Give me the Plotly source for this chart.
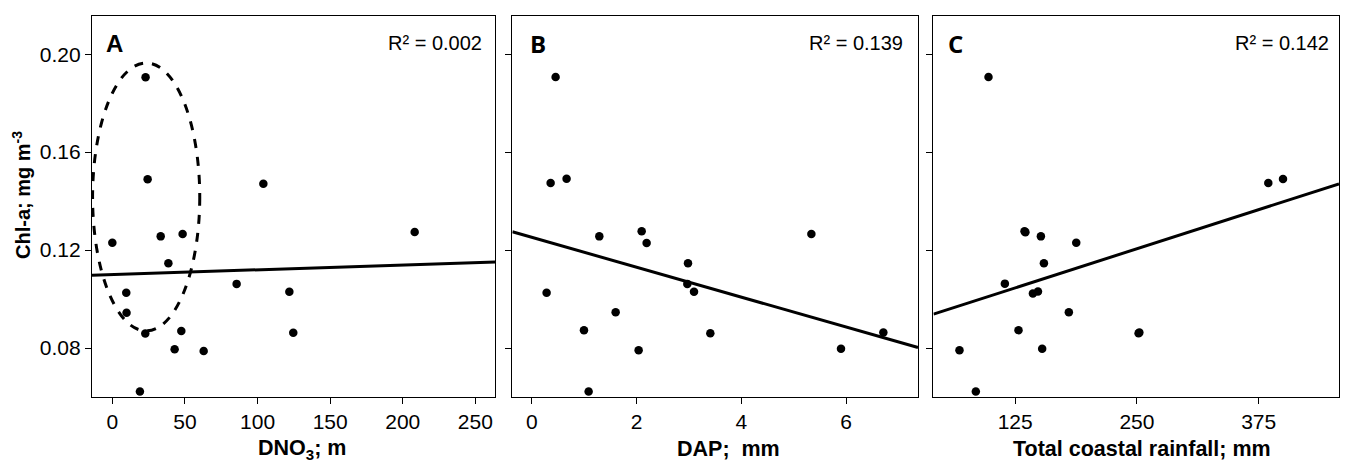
import plotly.graph_objects as go

# ---- data ----
dno3_m = [22.9, 24.3, 104.0, 0.0, 33.3, 48.4, 208.2, 38.6, 85.6, 9.6, 121.9, 9.8, 22.7, 47.5, 124.6, 42.9, 62.9, 19.0]
chl_a_A = [0.1906, 0.1489, 0.1471, 0.1230, 0.1256, 0.1266, 0.1274, 0.1146, 0.1062, 0.1026, 0.1030, 0.0944, 0.0859, 0.0870, 0.0862, 0.0795, 0.0788, 0.0622]

dap_mm = [0.452, 0.357, 0.662, 1.287, 2.096, 2.191, 5.338, 2.981, 2.968, 3.096, 0.280, 1.599, 0.994, 3.408, 6.713, 2.038, 5.904, 1.083]
chl_a_B = [0.1907, 0.1474, 0.1491, 0.1256, 0.1277, 0.1229, 0.1266, 0.1146, 0.1062, 0.1030, 0.1026, 0.0946, 0.0873, 0.0860, 0.0863, 0.0791, 0.0797, 0.0622]

rain_mm = [97.6, 384.9, 400.0, 134.6, 135.5, 151.4, 187.7, 154.5, 114.4, 143.2, 148.4, 180.1, 128.4, 251.7, 252.5, 67.8, 152.7, 84.6]
chl_a_C = [0.1907, 0.1474, 0.1490, 0.1277, 0.1273, 0.1256, 0.1230, 0.1146, 0.1063, 0.1023, 0.1031, 0.0946, 0.0873, 0.0860, 0.0863, 0.0791, 0.0797, 0.0622]

# linear fits (intercept, slope) and R^2 as shown
fit_A = (0.1100, 1.94e-5)
fit_B = (0.1252, -0.0061)
fit_C = (0.0886, 0.0001278)
r2_labels = ["0.002", "0.139", "0.142"]
panel_letters = ["A", "B", "C"]

x_titles = ["DNO<sub>3</sub>; m", "DAP;  mm", "Total coastal rainfall; mm"]
y_title = "Chl-a; mg m<sup>-3</sup>"

x_ranges = [[-14.0, 263.8], [-0.374, 7.375], [41.1, 457.5]]
x_ticks = [[0, 50, 100, 150, 200, 250], [0, 2, 4, 6], [125, 250, 375]]
y_ticks = [0.08, 0.12, 0.16, 0.20]
y_range = [0.060, 0.2156]

# ellipse highlighting cluster in panel A (data coords)
ellipse_A = dict(x0=-13.6, x1=60.2, y0=0.0870, y1=0.1964)

domains = [[0.0, 0.3235], [0.3371, 0.6624], [0.6748, 1.0]]

fig = go.Figure()
xs = [dno3_m, dap_mm, rain_mm]
ys = [chl_a_A, chl_a_B, chl_a_C]
fits = [fit_A, fit_B, fit_C]

for i in range(3):
    xa = "x" if i == 0 else f"x{i+1}"
    ya = "y" if i == 0 else f"y{i+1}"
    fig.add_trace(go.Scatter(x=xs[i], y=ys[i], mode="markers", xaxis=xa, yaxis=ya,
                             marker=dict(color="black", size=8.5, line=dict(width=0)),
                             showlegend=False, cliponaxis=False))
    b0, b1 = fits[i]
    lx = x_ranges[i]
    fig.add_trace(go.Scatter(x=lx, y=[b0 + b1 * v for v in lx], mode="lines",
                             xaxis=xa, yaxis=ya, line=dict(color="black", width=3),
                             showlegend=False))

axis_common = dict(showline=True, linecolor="black", linewidth=1.3, mirror=True,
                   showgrid=False, zeroline=False, ticks="outside", ticklen=6,
                   tickcolor="black", tickwidth=1,
                   tickfont=dict(family="Liberation Sans, Arial", size=21, color="black"))

layout = dict(width=1351, height=473, paper_bgcolor="white", plot_bgcolor="white",
              margin=dict(l=92, r=12, t=16, b=76), showlegend=False)

for i in range(3):
    xk = "xaxis" if i == 0 else f"xaxis{i+1}"
    yk = "yaxis" if i == 0 else f"yaxis{i+1}"
    xa = "x" if i == 0 else f"x{i+1}"
    ya = "y" if i == 0 else f"y{i+1}"
    layout[xk] = dict(axis_common, domain=domains[i], range=x_ranges[i],
                      tickvals=x_ticks[i], anchor=ya)
    layout[yk] = dict(axis_common, domain=[0, 1], range=y_range, tickvals=y_ticks,
                      tickformat=".2f", anchor=xa, showticklabels=(i == 0), ticklen=6)

fig.update_layout(**layout)

# ellipse
fig.add_shape(type="circle", xref="x", yref="y", **ellipse_A,
              line=dict(color="black", width=3, dash="dash"))

annotations = []
letter_x = [0.029, 0.038, 0.032]
r2_x = [0.971, 0.967, 0.98]
letter_fonts = ["Liberation Sans, Arial", "Open Sans, Calibri", "Open Sans, Calibri"]
x_title_centers = [301.7, 728.5, 1141.7]
for i in range(3):
    xa = "x" if i == 0 else f"x{i+1}"
    ya = "y" if i == 0 else f"y{i+1}"
    annotations.append(dict(text=f"<b>{panel_letters[i]}</b>", xref=f"{xa} domain", yref=f"{ya} domain",
                            x=letter_x[i], y=0.927, xanchor="left", yanchor="middle", showarrow=False,
                            font=dict(family=letter_fonts[i], size=24, color="black")))
    annotations.append(dict(text=f"R\u00b2 = {r2_labels[i]}", xref=f"{xa} domain", yref=f"{ya} domain",
                            x=r2_x[i], y=0.930, xanchor="right", yanchor="middle", showarrow=False,
                            font=dict(family="Liberation Sans, Arial", size=20, color="black")))
    annotations.append(dict(text=f"<b>{x_titles[i]}</b>", xref="paper", yref="paper",
                            x=(x_title_centers[i] - 92) / 1247, y=-(449 - 397) / 381,
                            xanchor="center", yanchor="middle", showarrow=False,
                            font=dict(family="Liberation Sans, Arial", size=21.5, color="black")))

annotations.append(dict(text=f"<b>{y_title}</b>", xref="paper", yref="paper",
                        x=-(92 - 21) / 1247, y=(397 - 195) / 381, textangle=-90,
                        xanchor="center", yanchor="middle", showarrow=False,
                        font=dict(family="Liberation Sans, Arial", size=20, color="black")))

fig.update_layout(annotations=annotations)
fig.write_html("out.html")
